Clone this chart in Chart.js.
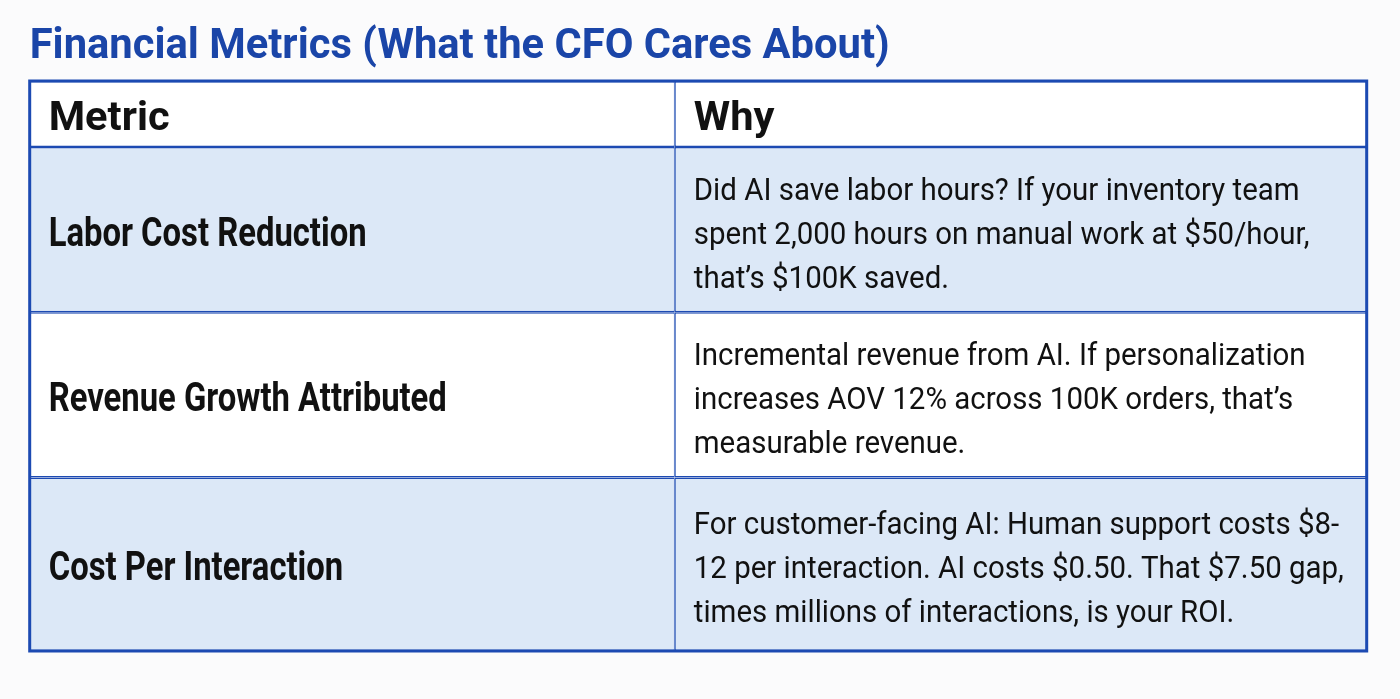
<!DOCTYPE html>
<html>
<head>
<meta charset="utf-8">
<script src="https://cdn.jsdelivr.net/npm/chart.js@4.4.1/dist/chart.umd.min.js"></script>
<style>
  html, body { margin: 0; background: #fbfbfc; }
  #wrap { width: 1400px; height: 699px; }
</style>
</head>
<body>
<div id="wrap"><canvas id="metricsTable"></canvas></div>
<script>
// table content
const title = 'Financial Metrics (What the CFO Cares About)';
const columns = ['Metric', 'Why'];
const metrics = ['Labor Cost Reduction', 'Revenue Growth Attributed', 'Cost Per Interaction'];
const reasons = [
  ['Did AI save labor hours? If your inventory team',
   'spent 2,000 hours on manual work at $50/hour,',
   'that\u2019s $100K saved.'],
  ['Incremental revenue from AI. If personalization',
   'increases AOV 12% across 100K orders, that\u2019s',
   'measurable revenue.'],
  ['For customer-facing AI: Human support costs $8-',
   '12 per interaction. AI costs $0.50. That $7.50 gap,',
   'times millions of interactions, is your ROI.']
];

// layout / style
const rowSpan = [0.4, 1, 1, 1.05];          // header row, then body rows
const colShare = [0.965, 1.035];             // first column a bit narrower than the second
const rowFill = ['#ffffff', '#dce8f7', '#ffffff', '#dce8f7'];
const BLUE = '#1c4ab2';
const INK = '#111111';
// how much each kind of text is squeezed sideways
const SQ_TITLE = 0.97;
const SQ_HEAD = 1.04;
const SQ_LABEL = 0.82;
const SQ_BODY = 0.92;

// row edges as [start, end] on the y scale
const rowEdges = [];
let acc = 0;
rowSpan.forEach(s => { rowEdges.push([acc, acc + s]); acc += s; });
const total = acc;

// one dataset per cell so each column can get its own width
const datasets = [];
rowEdges.forEach((edge, r) => {
  columns.forEach((col, c) => {
    datasets.push({
      label: (r === 0 ? 'header' : metrics[r - 1]) + ' / ' + col,
      row: r,
      col: c,
      data: columns.map((_, k) => (k === c ? edge : null)),
      backgroundColor: rowFill[r],
      borderColor: BLUE,
      borderWidth: { top: 1.5, bottom: 1.5, left: 1, right: 1 },
      borderSkipped: false,
      barPercentage: colShare[c],
      categoryPercentage: 1,
      grouped: false,
      clip: false
    });
  });
});

function squeezed(ctx, str, x, y, font, color, sx) {
  ctx.save();
  ctx.font = font;
  ctx.fillStyle = color;
  ctx.textAlign = 'left';
  ctx.textBaseline = 'alphabetic';
  ctx.translate(x, y);
  ctx.scale(sx, 1);
  ctx.fillText(str, 0, 0);
  ctx.restore();
}

const tableText = {
  id: 'tableText',
  afterDatasetsDraw(chart) {
    const ctx = chart.ctx;
    const area = chart.chartArea;
    let frameL = Infinity, frameR = -Infinity;

    chart.data.datasets.forEach((ds, i) => {
      const bar = chart.getDatasetMeta(i).data[ds.col];
      const r = ds.row, c = ds.col;
      const cellL = bar.x - bar.width / 2;
      frameL = Math.min(frameL, cellL);
      frameR = Math.max(frameR, bar.x + bar.width / 2);
      const left = cellL + 19;
      const mid = (bar.y + bar.base) / 2;
      if (r === 0) {
        squeezed(ctx, columns[c], left, mid + 16, 'bold 40px Roboto', INK, SQ_HEAD);
      } else if (c === 0) {
        squeezed(ctx, metrics[r - 1], left, mid + 16, 'bold 40px Roboto', INK, SQ_LABEL);
      } else {
        const lines = reasons[r - 1];
        lines.forEach((line, k) => {
          const y = mid + 14 + (k - (lines.length - 1) / 2) * 44;
          squeezed(ctx, line, left, y, '32px Roboto', INK, SQ_BODY);
        });
      }
    });

    // outer frame
    ctx.save();
    ctx.strokeStyle = BLUE;
    ctx.lineWidth = 3;
    ctx.strokeRect(frameL, area.top, frameR - frameL, area.bottom - area.top);
    ctx.restore();

    // title
    squeezed(ctx, title, frameL, 58, 'bold 43px Roboto', '#1a45a8', SQ_TITLE);
  }
};

new Chart(document.getElementById('metricsTable'), {
  type: 'bar',
  data: { labels: columns, datasets: datasets },
  options: {
    responsive: true,
    maintainAspectRatio: false,
    animation: false,
    layout: { padding: { left: 18, right: 45, top: 81, bottom: 48 } },
    scales: {
      x: { type: 'category', display: false },
      y: { type: 'linear', display: false, min: 0, max: total, reverse: true }
    },
    plugins: {
      legend: { display: false },
      tooltip: { enabled: false },
      title: { display: false }
    }
  },
  plugins: [tableText]
});
</script>
</body>
</html>
